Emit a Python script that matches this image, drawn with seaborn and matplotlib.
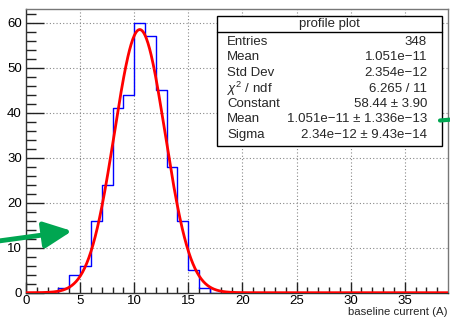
import numpy as np
import pandas as pd
import matplotlib
matplotlib.use("Agg")
import matplotlib.pyplot as plt
import seaborn as sns
from matplotlib.patches import Rectangle
from matplotlib.lines import Line2D

# Histogram contents (bin width 1, left edges)
bin_lefts = [3, 4, 5, 6, 7, 8, 9, 10, 11, 12, 13, 14, 15, 16]
counts = [1, 4, 6, 16, 24, 41, 44, 60, 57, 45, 28, 16, 5, 1]
x_range = (0, 39)

# Gaussian fit parameters (from stats box, in plot units)
fit_const = 58.44
fit_mean = 10.51
fit_sigma = 2.34

stat_names = ["Entries", "Mean", "Std Dev", r"$\chi^{2}$ / ndf", "Constant", "Mean", "Sigma"]
stat_values = ["348", "1.051e\u221211", "2.354e\u221212", "6.265 / 11", "58.44 \u00b1 3.90",
               "1.051e\u221211 \u00b1 1.336e\u221213", "2.34e\u221212 \u00b1 9.43e\u221214"]

sns.set_style("ticks")
plt.rcParams['font.family'] = ['Liberation Sans', 'DejaVu Sans']
plt.rcParams['mathtext.fontset'] = 'custom'
plt.rcParams['mathtext.rm'] = 'Liberation Sans'
plt.rcParams['mathtext.it'] = 'Liberation Sans:italic'

W, H = 450, 318
fig = plt.figure(figsize=(4.5, 3.18), dpi=100)
ax = fig.add_axes([26 / W, (H - 292.7) / H, (448 - 26) / W, (292.7 - 9) / H])

df = pd.DataFrame({"x": np.array(bin_lefts) + 0.5, "n": counts})
sns.histplot(data=df, x="x", weights="n", binwidth=1, binrange=x_range,
             element="step", fill=False, color="blue", linewidth=1.0, ax=ax)

xs = np.linspace(x_range[0], x_range[1], 800)
ys = fit_const * np.exp(-0.5 * ((xs - fit_mean) / fit_sigma) ** 2)
sns.lineplot(x=xs, y=ys, color="red", linewidth=2, ax=ax, zorder=5)

ax.set_xlim(*x_range)
ax.set_ylim(0, 63)
ax.set_xticks(np.arange(0, 36, 5))
ax.set_xticks(np.arange(0, 39, 1), minor=True)
ax.set_yticks(np.arange(0, 61, 10))
ax.set_yticks(np.arange(0, 63, 2), minor=True)
ax.set_xlabel("")
ax.set_ylabel("")
ax.grid(True, which="major", color="#888888", linestyle=(0, (1, 2)), linewidth=0.8)
ax.set_axisbelow(True)

ax.tick_params(axis="both", which="both", direction="in", colors="#222222",
               labelsize=9.5, labelcolor="black")
ax.tick_params(axis="y", which="major", length=13, width=1, pad=3)
ax.tick_params(axis="y", which="minor", length=7, width=1)
ax.tick_params(axis="x", which="major", length=8, width=1, pad=2)
ax.tick_params(axis="x", which="minor", length=4, width=1)
for side in ["left", "bottom", "top", "right"]:
    ax.spines[side].set_visible(True)
    ax.spines[side].set_color("#333333" if side in ("left", "bottom") else "#777777")
    ax.spines[side].set_linewidth(1)

fig.text(448 / W, 1 - 315 / H, "baseline current (A)", ha="right", va="baseline", fontsize=8.2)

# Stats box
bx0, by0, bx1, by1 = 217, 16, 442, 146
fig.add_artist(Rectangle((bx0 / W, 1 - by1 / H), (bx1 - bx0) / W, (by1 - by0) / H,
                         transform=fig.transFigure, facecolor="white", edgecolor="black",
                         linewidth=1, zorder=10))
fig.add_artist(Line2D([bx0 / W, bx1 / W], [1 - 32 / H, 1 - 32 / H],
                      transform=fig.transFigure, color="black", linewidth=1, zorder=11))
fig.text((bx0 + bx1) / 2 / W, 1 - 24.5 / H, "profile plot", ha="center", va="center",
         fontsize=9.5, zorder=12)
row_y = [42, 57.5, 73, 88.5, 104, 119.5, 135]
for name, val, y in zip(stat_names, stat_values, row_y):
    fig.text(227 / W, 1 - y / H, name, ha="left", va="center", fontsize=9.5, zorder=12)
    fig.text(427 / W, 1 - y / H, val, ha="right", va="center", fontsize=9.5, zorder=12)

# Green arrows
green = "#00a651"
ax.annotate("", xy=(72, H - 231), xytext=(-5, H - 241.5), xycoords="figure pixels",
            textcoords="figure pixels",
            arrowprops=dict(arrowstyle="-|>,head_length=1.7,head_width=0.8",
                            color=green, lw=3.5, shrinkA=0, shrinkB=0),
            annotation_clip=False)
fig.add_artist(Line2D([440 / W, 452 / W], [1 - 120.5 / H, 1 - 119.5 / H],
                      transform=fig.transFigure, color=green, linewidth=3, zorder=13))

fig.savefig("out.png", dpi=100)
